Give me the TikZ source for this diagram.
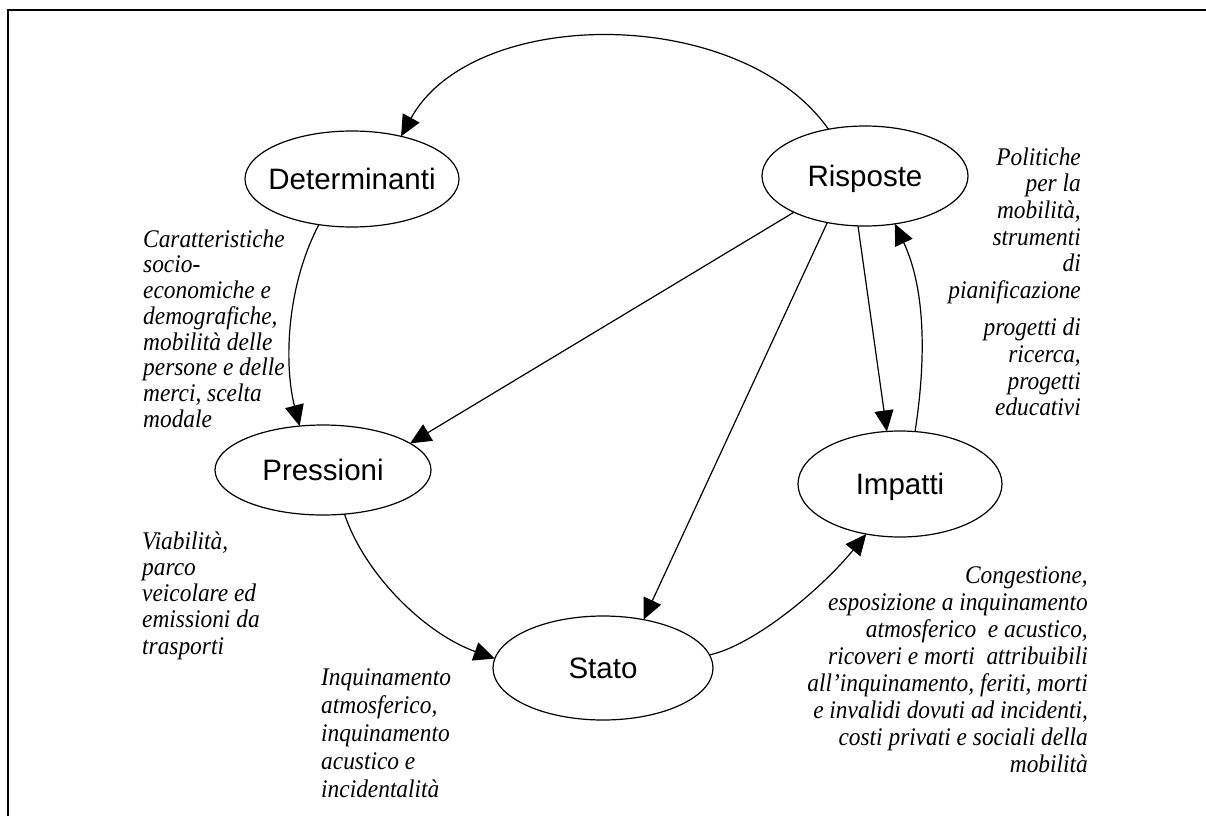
\documentclass[tikz,border=0pt]{standalone}
\usepackage{fontspec}
\setmainfont{Liberation Serif}
\newfontfamily\labelfont{Liberation Sans}
\newfontfamily\notefont[FakeStretch=0.92]{Liberation Serif}
\usetikzlibrary{arrows.meta,shapes.geometric}
\newcommand\firststrut{\rule{0pt}{19pt}}
\begin{document}
\begin{tikzpicture}[x=1pt,y=1pt,
  stage/.style={draw, ellipse, line width=1.2pt, inner sep=0pt, outer sep=0pt,
    font=\labelfont\fontsize{29.5}{34}\selectfont, text height=21.2pt, text depth=0pt},
  note/.style={inner sep=0pt},
  link/.style={line width=1.2pt, -{Triangle[length=21pt,width=19pt]}},
]
\useasboundingbox (0,0) rectangle (1206,-816);
\fill[white] (0,0) rectangle (1206,-816);
\draw[line width=1.6pt] (8,-816) -- (8,-10) -- (1206,-10);

% stages
\node[stage, minimum width=214pt, minimum height=96pt]  (det)   at (352,-179) {\makebox[0pt]{Determinanti}};
\node[stage, minimum width=206pt, minimum height=100pt] (risp)  at (865,-176) {\makebox[0pt]{Risposte}};
\node[stage, minimum width=216pt, minimum height=90pt]  (pres)  at (323,-470) {\makebox[0pt]{Pressioni}};
\node[stage, minimum width=204pt, minimum height=106pt] (imp)   at (900,-484) {\makebox[0pt]{Impatti}};
\node[stage, minimum width=220pt, minimum height=104pt] (stato) at (603,-668) {\makebox[0pt]{Stato}};

% notes
\node[note, anchor=north west, align=left, font=\notefont\itshape\fontsize{25.4}{25.7}\selectfont] (ncar) at (143,-228)
  {\firststrut Caratteristiche\\socio-\\economiche e\\demografiche,\\mobilità delle\\persone e delle\\merci, scelta\\modale};
\node[note, anchor=north west, align=left, font=\notefont\itshape\fontsize{25.4}{26.2}\selectfont] (nvia) at (142,-530)
  {\firststrut Viabilità,\\parco\\veicolare ed\\emissioni da\\trasporti};
\node[note, anchor=north west, align=left, font=\notefont\itshape\fontsize{25.4}{28}\selectfont] (ninq) at (321,-666)
  {\firststrut Inquinamento\\atmosferico,\\inquinamento\\acustico e\\incidentalità};
\node[note, anchor=north east, align=right, font=\notefont\itshape\fontsize{25.4}{26.6}\selectfont] (npol) at (1081,-146)
  {\firststrut Politiche\\per la\\mobilità,\\strumenti\\di\\pianificazione\\[11pt]progetti di\\ricerca,\\progetti\\educativi};
\node[note, anchor=north east, align=right, font=\notefont\itshape\fontsize{25.4}{27}\selectfont] (ncon) at (1088,-564)
  {\firststrut Congestione,\\esposizione a inquinamento\\atmosferico\ \ e acustico,\\ricoveri e morti\ \ attribuibili\\all’inquinamento, feriti, morti\\e invalidi dovuti ad incidenti,\\costi privati e sociali della\\mobilità\hspace{5pt}};

% connectors
\draw[link] (risp.128.8) .. controls +(-88,125) and +(72,131) .. (det.41.6);
\draw[link] (det.234) .. controls +(-34,-65) and +(-15,58) .. (pres.118);
\draw[link] (risp.207.5) -- (pres.17.2);
\draw[link] (risp.231.6) -- (stato.50.2);
\draw[link] (risp.262) -- (imp.104.3);
\draw[link] (imp.74.2) .. controls +(11,71) and +(31,-66) .. (risp.302.1);
\draw[link] (pres.296.6) .. controls +(20,-60) and +(-70,25) .. (stato.175);
\draw[link] (stato.7) .. controls +(45,10) and +(-45,-55) .. (imp.236.6);
\end{tikzpicture}
\end{document}
